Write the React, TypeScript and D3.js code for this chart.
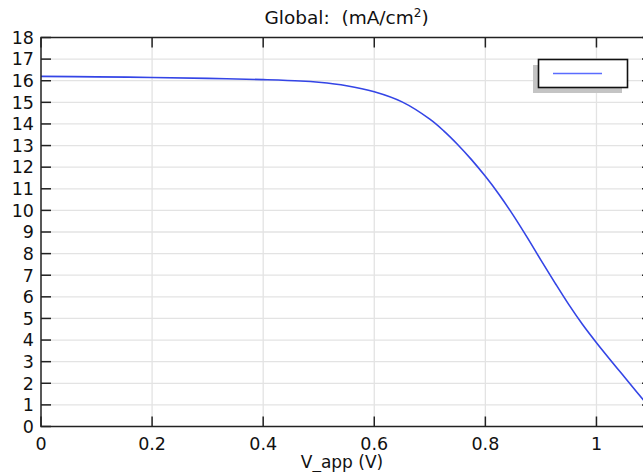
import * as d3 from 'd3';
import { useEffect, useRef } from 'react';

// J-V curve
const vApp = [0, 0.1, 0.2, 0.3, 0.4, 0.467, 0.5, 0.55, 0.6, 0.65, 0.7, 0.725, 0.75, 0.775, 0.8, 0.825, 0.85, 0.875, 0.9, 0.925, 0.95, 0.975, 1.0, 1.05, 1.1];
const current = [16.2, 16.18, 16.15, 16.11, 16.05, 15.99, 15.93, 15.77, 15.49, 15.02, 14.22, 13.68, 13.05, 12.35, 11.575, 10.725, 9.78, 8.76, 7.7, 6.66, 5.65, 4.72, 3.88, 2.3, 0.75];
const xTicks = [0, 0.2, 0.4, 0.6, 0.8, 1];
const yTicks = d3.range(0, 19);

const W = 643;
const H = 472;
const margin = { left: 41, right: -9, top: 37.5, bottom: 45.5 };
const FONT = 'DejaVu Sans, sans-serif';

export default function App() {
    const ref = useRef<SVGSVGElement>(null);

    useEffect(() => {
        const svg = d3.select(ref.current);
        svg.selectAll('*').remove();

        const x = d3.scaleLinear().domain([0, 1.1]).range([margin.left, W - margin.right]);
        const y = d3.scaleLinear().domain([0, 18]).range([H - margin.bottom, margin.top]);
        const [x0, x1] = x.range();
        const [y0, y1] = y.range();

        // grid
        const grid = svg.append('g').attr('stroke', '#e3e3e3').attr('stroke-width', 1.3);
        grid.selectAll('line.v').data(xTicks.slice(1)).join('line')
            .attr('x1', d => x(d)).attr('x2', d => x(d)).attr('y1', y0).attr('y2', y1);
        grid.selectAll('line.h').data(yTicks.slice(1, -1)).join('line')
            .attr('y1', d => y(d)).attr('y2', d => y(d)).attr('x1', x0).attr('x2', x1);

        // curve
        const line = d3.line<number>()
            .x((_, i) => x(vApp[i]))
            .y(d => y(d))
            .curve(d3.curveCatmullRom.alpha(0.5));
        svg.append('path')
            .datum(current)
            .attr('d', line)
            .attr('fill', 'none')
            .attr('stroke', '#3445e6')
            .attr('stroke-width', 1.6);

        // axes: ticks inward on every side
        const tickLen = 10;
        const axisG = svg.append('g').attr('stroke', '#222').attr('stroke-width', 1.5);
        axisG.append('rect')
            .attr('x', x0).attr('y', y1).attr('width', x1 - x0).attr('height', y0 - y1)
            .attr('fill', 'none');
        xTicks.forEach(t => {
            axisG.append('line').attr('x1', x(t)).attr('x2', x(t)).attr('y1', y0).attr('y2', y0 - tickLen);
            axisG.append('line').attr('x1', x(t)).attr('x2', x(t)).attr('y1', y1).attr('y2', y1 + tickLen);
        });
        yTicks.forEach(t => {
            axisG.append('line').attr('y1', y(t)).attr('y2', y(t)).attr('x1', x0).attr('x2', x0 + tickLen);
            axisG.append('line').attr('y1', y(t)).attr('y2', y(t)).attr('x1', x1).attr('x2', x1 - tickLen);
        });

        // tick labels
        svg.append('g').selectAll('text').data(xTicks).join('text')
            .attr('x', d => x(d)).attr('y', y0 + 23)
            .attr('text-anchor', 'middle')
            .attr('font-family', FONT).attr('font-size', 17.5).attr('fill', '#111')
            .text(d => d3.format('~g')(d));
        svg.append('g').selectAll('text').data(yTicks).join('text')
            .attr('x', x0 - 7).attr('y', d => y(d)).attr('dy', '0.36em')
            .attr('text-anchor', 'end')
            .attr('font-family', FONT).attr('font-size', 17.5).attr('fill', '#111')
            .text(d => String(d));

        // x axis label
        svg.append('text')
            .attr('x', (x0 + W) / 2).attr('y', H - 4)
            .attr('text-anchor', 'middle')
            .attr('font-family', FONT).attr('font-size', 17).attr('fill', '#111')
            .text('V_app (V)');

        // title
        const title = svg.append('text')
            .attr('x', (x0 + x1) / 2).attr('y', 24)
            .attr('text-anchor', 'middle')
            .attr('font-family', FONT).attr('font-size', 18.5).attr('fill', '#111')
            .attr('xml:space', 'preserve');
        title.append('tspan').text('Global:  (mA/cm');
        title.append('tspan').attr('font-size', 12).attr('dy', -7).text('2');
        title.append('tspan').attr('dy', 7).text(')');

        // legend
        const lg = svg.append('g');
        lg.append('rect').attr('x', 533).attr('y', 65).attr('width', 89).attr('height', 28).attr('fill', '#c4c4c4');
        lg.append('rect').attr('x', 538.5).attr('y', 59.5).attr('width', 89).attr('height', 28)
            .attr('fill', '#fff').attr('stroke', '#111').attr('stroke-width', 1.6);
        lg.append('line').attr('x1', 553).attr('x2', 602).attr('y1', 73.5).attr('y2', 73.5)
            .attr('stroke', '#5a6cff').attr('stroke-width', 1.6);
    }, []);

    return (
        <svg
            ref={ref}
            width={W}
            height={H}
            style={{ position: 'absolute', left: 0, top: 0, background: '#fff', display: 'block' }}
        />
    );
}
